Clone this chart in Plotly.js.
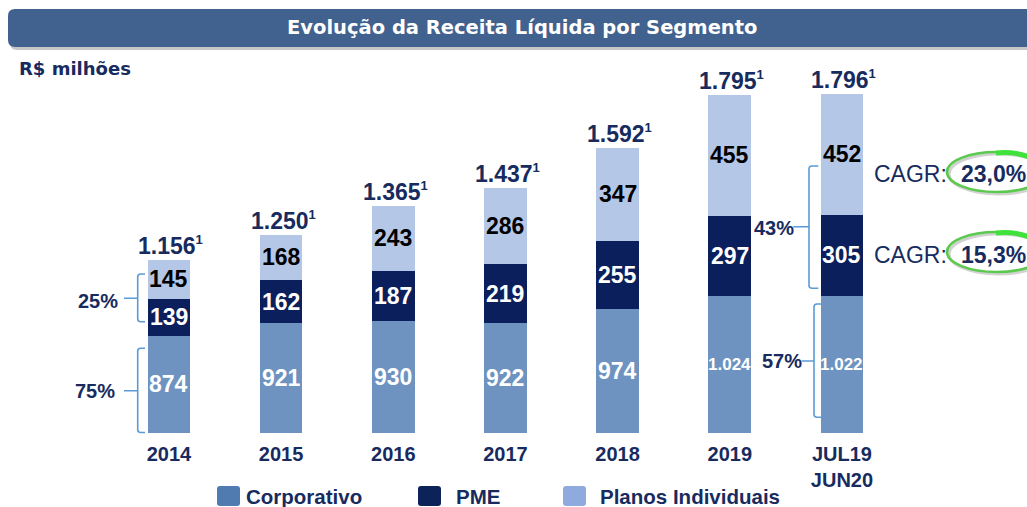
<!DOCTYPE html>
<html>
<head>
<meta charset="utf-8">
<script src="https://cdn.plot.ly/plotly-3.0.1.min.js"></script>
<style>
  html, body { margin: 0; padding: 0; background: #ffffff; }
  #chart { width: 1027px; height: 507px; }
</style>
</head>
<body>
<div id="chart"></div>
<script>
// ---------------- data ----------------
const categories = ['2014', '2015', '2016', '2017', '2018', '2019', 'JUL19<br>JUN20'];
const corporativo = [874, 921, 930, 922, 974, 1024, 1022];
const pme = [139, 162, 187, 219, 255, 297, 305];
const planos = [145, 168, 243, 286, 347, 455, 452];
const totals = [1156, 1250, 1365, 1437, 1592, 1795, 1796];
const seriesNames = ['Corporativo', 'PME', 'Planos Individuais'];
const shareLabels2014 = ['25%', '75%'];
const shareLabelsLast = ['43%', '57%'];
const cagrLabel = 'CAGR:';
const cagrValues = ['23,0%', '15,3%'];
const unitLabel = 'R$ milhões';
const chartTitle = 'Evolução da Receita Líquida por Segmento';

// ---------------- styles ----------------
const C_CORP = '#6E93C0', C_PME = '#0B1F5C', C_PLAN = '#B4C7E7';
const L_CORP = '#4F7BB0', L_PME = '#0B2358', L_PLAN = '#8FAADC';
const NAVY = '#172B5E';
const BRACKET = '#5B9BD5';
const ARIAL = 'Liberation Sans, Arial, sans-serif';
const WIDE = 'DejaVu Sans, Verdana, sans-serif';

const W = 1027, H = 507, MB = 74, PH = H - MB;
const Y0 = 510, Y1 = 2130;              // axis window (chart is not zero-based)
const px = v => v / W;                   // pixel x -> paper x
const py = v => (PH - v) / PH;           // pixel y -> paper y

function fmt(n) {
  const s = String(Math.round(n));
  return s.replace(/\B(?=(\d{3})+(?!\d))/g, '.');
}

// ---------------- traces ----------------
const hov = 'skip';
const traces = [
  { type: 'bar', name: seriesNames[0], x: categories, y: corporativo, marker: { color: C_CORP }, hoverinfo: hov },
  { type: 'bar', name: seriesNames[1], x: categories, y: pme, marker: { color: C_PME }, hoverinfo: hov },
  { type: 'bar', name: seriesNames[2], x: categories, y: planos, marker: { color: C_PLAN }, hoverinfo: hov }
];

// ---------------- annotations ----------------
const ann = [];
categories.forEach((c, i) => {
  const a = corporativo[i], b = a + pme[i], t = b + planos[i];
  const big = a >= 1000;
  ann.push({ x: i, y: (Math.max(Y0, 0) + a) / 2, xref: 'x', yref: 'y', text: fmt(a), showarrow: false,
    font: { family: ARIAL, size: big ? 17 : 23, color: '#ffffff', weight: 'bold' } });
  ann.push({ x: i, y: (a + b) / 2, xref: 'x', yref: 'y', text: fmt(pme[i]), showarrow: false,
    font: { family: ARIAL, size: 23, color: '#ffffff', weight: 'bold' } });
  ann.push({ x: i, y: (b + t) / 2, xref: 'x', yref: 'y', text: fmt(planos[i]), showarrow: false,
    font: { family: ARIAL, size: 23, color: '#000000', weight: 'bold' } });
  ann.push({ x: i, y: t, xref: 'x', yref: 'y', yanchor: 'bottom', yshift: -1, xshift: 2,
    text: fmt(totals[i]) + '<sup><span style="font-size:13px">1</span></sup>',
    showarrow: false, font: { family: ARIAL, size: 23, color: NAVY, weight: 'bold' } });
});

function textAt(x, y, text, font, xanchor) {
  ann.push({ x: px(x), y: py(y), xref: 'paper', yref: 'paper', text: text, showarrow: false,
    xanchor: xanchor || 'center', yanchor: 'middle', font: font });
}
// title & unit
textAt(522, 28, chartTitle, { family: WIDE, size: 19.5, color: '#ffffff', weight: 'bold' });
textAt(17, 68, unitLabel, { family: WIDE, size: 18, color: NAVY, weight: 'bold' }, 'left');
// share labels
textAt(98, 301, shareLabels2014[0], { family: ARIAL, size: 20, color: NAVY, weight: 'bold' });
textAt(95, 391, shareLabels2014[1], { family: ARIAL, size: 20, color: NAVY, weight: 'bold' });
textAt(774, 228, shareLabelsLast[0], { family: ARIAL, size: 20, color: NAVY, weight: 'bold' });
textAt(782, 361, shareLabelsLast[1], { family: ARIAL, size: 20, color: NAVY, weight: 'bold' });
// CAGR
[174, 255].forEach((yy, k) => {
  textAt(872, yy, cagrLabel, { family: ARIAL, size: 23, color: NAVY }, 'left');
  textAt(959, yy, cagrValues[k], { family: ARIAL, size: 23, color: NAVY, weight: 'bold' }, 'left');
});
// legend texts
const legX = [244, 454, 598];
seriesNames.forEach((n, k) => {
  textAt(legX[k], 496, n, { family: ARIAL, size: 20.5, color: NAVY, weight: 'bold' }, 'left');
});

// ---------------- shapes ----------------
function rrect(x0, y0, x1, y1, r) {
  const rx = r / W, ry = r / PH;
  const X0 = px(x0), X1 = px(x1), Ya = py(y0), Yb = py(y1);
  return `M ${X0 + rx},${Ya} L ${X1 - rx},${Ya} Q ${X1},${Ya} ${X1},${Ya - ry} L ${X1},${Yb + ry} ` +
         `Q ${X1},${Yb} ${X1 - rx},${Yb} L ${X0 + rx},${Yb} Q ${X0},${Yb} ${X0},${Yb + ry} ` +
         `L ${X0},${Ya - ry} Q ${X0},${Ya} ${X0 + rx},${Ya} Z`;
}
function bracket(xv, yTop, yBot, xEnd, yMid, xMid) {
  const r = 3;
  return `M ${px(xEnd)},${py(yTop)} L ${px(xv + r)},${py(yTop)} Q ${px(xv)},${py(yTop)} ${px(xv)},${py(yTop + r)} ` +
         `L ${px(xv)},${py(yBot - r)} Q ${px(xv)},${py(yBot)} ${px(xv + r)},${py(yBot)} L ${px(xEnd)},${py(yBot)} ` +
         `M ${px(xMid)},${py(yMid)} L ${px(xv)},${py(yMid)}`;
}
const shapes = [];
// banner shadow + banner
shapes.push({ type: 'path', xref: 'paper', yref: 'paper', path: rrect(10, 12, 1040, 50, 7),
  fillcolor: 'rgba(0,0,0,0.22)', line: { width: 0 }, layer: 'above' });
shapes.push({ type: 'path', xref: 'paper', yref: 'paper', path: rrect(8, 9, 1040, 47, 7),
  fillcolor: '#41618E', line: { width: 0 }, layer: 'above' });
// brackets
const bl = { color: BRACKET, width: 1.6 };
shapes.push({ type: 'path', xref: 'paper', yref: 'paper', path: bracket(137.7, 274, 321.7, 145, 298.3, 124), line: bl });
shapes.push({ type: 'path', xref: 'paper', yref: 'paper', path: bracket(137.7, 348.3, 432.5, 145, 390.7, 124), line: bl });
shapes.push({ type: 'path', xref: 'paper', yref: 'paper', path: bracket(809, 166, 288.3, 818.3, 226.7, 793.3), line: bl });
shapes.push({ type: 'path', xref: 'paper', yref: 'paper', path: bracket(814, 304, 417.3, 821.7, 361, 801.7), line: bl });
// CAGR ellipses
[[152, 192], [232, 272]].forEach(([a, b]) => {
  shapes.push({ type: 'circle', xref: 'paper', yref: 'paper', x0: px(949), x1: px(1048), y0: py(b + 2), y1: py(a + 2),
    line: { color: 'rgba(0,0,0,0.18)', width: 3 } });
  shapes.push({ type: 'circle', xref: 'paper', yref: 'paper', x0: px(947), x1: px(1046), y0: py(b), y1: py(a),
    line: { color: '#5BC94E', width: 2.6 } });
  shapes.push({ type: 'path', xref: 'paper', yref: 'paper',
    path: `M ${px(996)},${py(a + 1)} Q ${px(1015)},${py(a - 1)} ${px(1032)},${py(a + 6)}`,
    line: { color: '#3FE23A', width: 5 } });
});
// legend swatches
const legSw = [[217, L_CORP], [418, L_PME], [563, L_PLAN]];
legSw.forEach(([x, col]) => {
  shapes.push({ type: 'path', xref: 'paper', yref: 'paper', path: rrect(x, 486, x + 23, 506, 3),
    fillcolor: col, line: { width: 0 } });
});

// ---------------- layout ----------------
const layout = {
  width: W, height: H,
  margin: { l: 0, r: 0, t: 0, b: MB, pad: 0 },
  paper_bgcolor: '#ffffff', plot_bgcolor: '#ffffff',
  barmode: 'stack', bargap: 0.62,
  showlegend: false,
  xaxis: {
    type: 'category', range: [-168.9 / 112.18, (W - 168.9) / 112.18],
    showgrid: false, zeroline: false, showline: false, ticks: '',
    ticklabelstandoff: 7,
    tickfont: { family: ARIAL, size: 20, color: NAVY, weight: 'bold' },
    fixedrange: true
  },
  yaxis: { range: [Y0, Y1], visible: false, showgrid: false, zeroline: false, fixedrange: true },
  annotations: ann,
  shapes: shapes,
  hovermode: false
};

Plotly.newPlot('chart', traces, layout, { displayModeBar: false, staticPlot: true });
</script>
</body>
</html>
